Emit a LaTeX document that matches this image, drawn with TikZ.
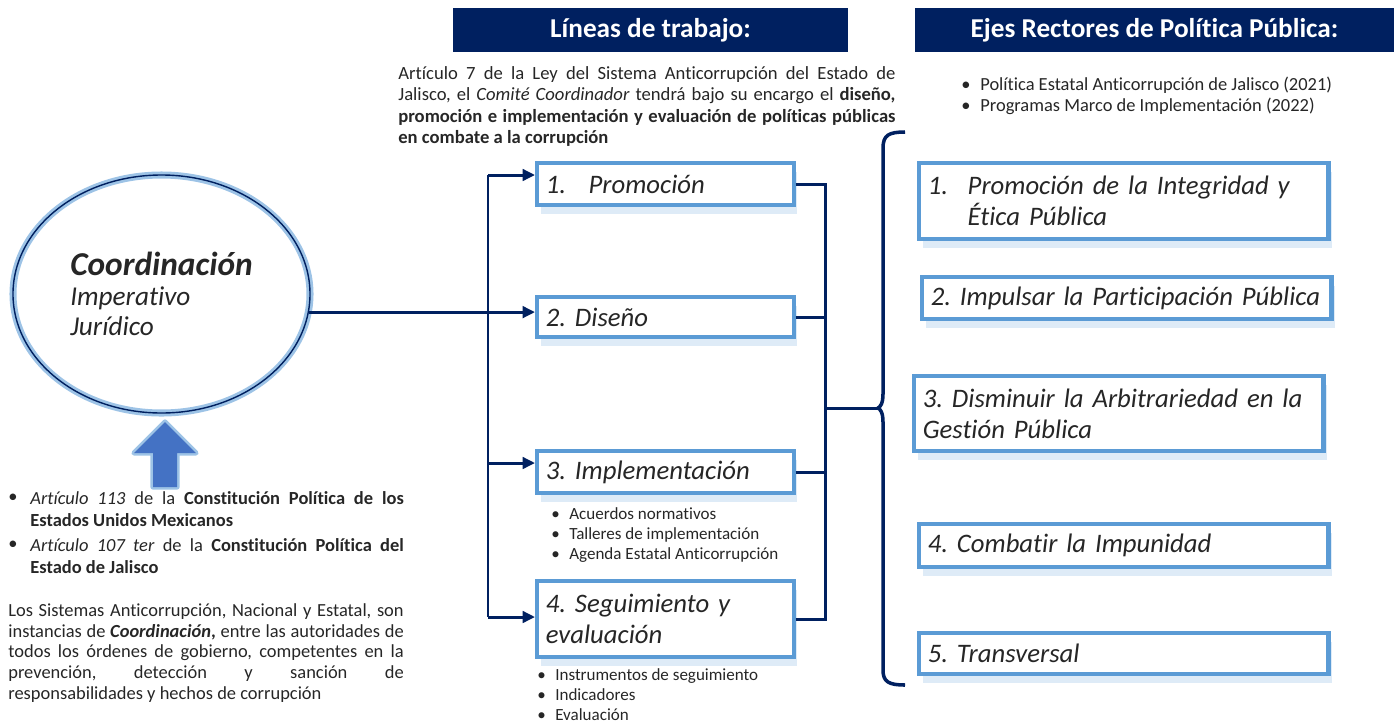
\documentclass[tikz,border=0pt]{standalone}
\usepackage{fontspec}
\setmainfont{Carlito}[Ligatures=NoCommon]
\usetikzlibrary{shapes.geometric,arrows.meta,shadows}

\definecolor{marino}{HTML}{002060}
\definecolor{azulcaja}{HTML}{5B9BD5}
\definecolor{sombra}{HTML}{DEEBF7}
\definecolor{azulflecha}{HTML}{4472C4}
\definecolor{brillo}{HTML}{9DC3E6}
\definecolor{gristexto}{HTML}{262626}

\tikzset{
  titulo/.style={fill=marino, text=white, font=\fontsize{15.5}{18}\selectfont\bfseries, minimum height=8.8mm, inner sep=0pt},
  caja/.style={draw=azulcaja, line width=2.3pt, fill=white, anchor=north west, inner xsep=5pt, inner ysep=0pt, align=left,
    font=\fontsize{15.2}{17.6}\selectfont\itshape,
    drop shadow={shadow xshift=0.7mm, shadow yshift=-1.7mm, fill=sombra, opacity=1}},
  linea/.style={caja, text width=136pt},
  eje/.style={caja, text width=223pt},
  parrafo/.style={anchor=north west, inner sep=0pt, align=justify, font=\fontsize{10.5}{12.2}\selectfont},
  punto/.style={parrafo, text width=212.5pt, font=\fontsize{10.5}{12.5}\selectfont},
  lista/.style={anchor=north west, inner sep=0pt, align=left, font=\fontsize{9.7}{11.6}\selectfont},
  conector/.style={draw=marino, line width=1.7pt},
  flecha/.style={conector, -{Triangle[length=7pt, width=6.5pt]}},
}

\begin{document}
\frenchspacing
\begin{tikzpicture}[x=0.2mm, y=-0.2mm, text=gristexto]
        \useasboundingbox (0,0) rectangle (1400,725);

        %Titulos
        \node[titulo, minimum width=79mm] (titulo1) at (650.5,30) {Líneas de trabajo:};
        \node[titulo, minimum width=95.8mm] (titulo2) at (1154.5,30) {Ejes Rectores de Política Pública:};

        %Articulo 7
        \node[parrafo, text width=282.9pt, font=\fontsize{10.6}{12.25}\selectfont] (art7) at (398,66) {Artículo 7 de la Ley del Sistema Anticorrupción del Estado de\linebreak Jalisco, el \textit{Comité Coordinador} tendrá bajo su encargo el \textbf{diseño,\linebreak promoción e implementación y evaluación de políticas públicas\linebreak en combate a la corrupción}};
        \node[lista, font=\fontsize{10.5}{12}\selectfont] (planes) at (961,77) {\makebox[10.8pt][l]{\textbullet}Política Estatal Anticorrupción de Jalisco (2021)\\
            \makebox[10.8pt][l]{\textbullet}Programas Marco de Implementación (2022)};

        %Coordinacion
        \node[ellipse, draw=marino, line width=0.8pt, preaction={draw=brillo, line width=4pt},
            minimum width=59.4mm, minimum height=47.6mm, inner sep=0pt, align=left,
            font=\fontsize{15.5}{17}\selectfont\itshape] (coord) at (161.5,294)
            {{\fontsize{19}{22}\selectfont\bfseries Coordinación}\\ Imperativo\\ Jurídico};
        \fill[azulflecha, preaction={draw=brillo, line width=3pt, line join=round}]
            (165,422) -- (196,453) -- (177,453) -- (177,487) -- (153,487) -- (153,453) -- (134,453) -- cycle;

        %Fundamento
        \node[lista, font=\fontsize{10.5}{12.5}\selectfont] (bala1) at (8,494) {\textbullet};
        \node[punto] (art113) at (30,491) {\textit{Artículo 113} de la \textbf{Constitución Política de los\linebreak Estados Unidos Mexicanos}};
        \node[lista, font=\fontsize{10.5}{12.5}\selectfont] (bala2) at (8,541) {\textbullet};
        \node[punto] (art107) at (30,538) {\textit{Artículo 107 ter} de la \textbf{Constitución Política del\linebreak Estado de Jalisco}};
        \node[parrafo, text width=225pt, font=\fontsize{10.5}{11.9}\selectfont] (sistemas) at (8,603) {Los Sistemas Anticorrupción, Nacional y Estatal, son\linebreak instancias de \textbf{\textit{Coordinación},} entre las autoridades de\linebreak todos los órdenes de gobierno, competentes en la\linebreak prevención, detección y sanción de\linebreak responsabilidades y hechos de corrupción};

        %Lineas de trabajo
        \node[linea, minimum height=8.4mm] (promocion) at (535,161) {\makebox[24.4pt][l]{1.}Promoción};
        \node[linea, minimum height=8mm] (diseno) at (535,295) {2. Diseño};
        \node[linea, minimum height=8.4mm] (implementacion) at (535,449) {3. Implementación};
        \node[linea, minimum height=15.2mm] (seguimiento) at (535,579) {4. Seguimiento y\\evaluación};
        \node[lista] (acuerdos) at (551,507) {\makebox[10.2pt][l]{\textbullet}Acuerdos normativos\\
            \makebox[10.2pt][l]{\textbullet}Talleres de implementación\\
            \makebox[10.2pt][l]{\textbullet}Agenda Estatal Anticorrupción};
        \node[lista] (instrumentos) at (537,668) {\makebox[10.2pt][l]{\textbullet}Instrumentos de seguimiento\\
            \makebox[10.2pt][l]{\textbullet}Indicadores\\
            \makebox[10.2pt][l]{\textbullet}Evaluación};

        %Ejes rectores
        \node[eje, minimum height=15.2mm] (integridad) at (917,161) {\makebox[22.7pt][l]{1.}Promoción de la Integridad y\\\hspace*{22.7pt}Ética Pública};
        \node[eje, minimum height=8.4mm] (participacion) at (920,275) {2. Impulsar la Participación Pública};
        \node[eje, minimum height=15mm] (arbitrariedad) at (912,374) {3. Disminuir la Arbitrariedad en la\\Gestión Pública};
        \node[eje, minimum height=8.6mm] (impunidad) at (917,522) {4. Combatir la Impunidad};
        \node[eje, minimum height=8.2mm] (transversal) at (917,631) {5. Transversal};

        %Conectores
        \coordinate (l1) at (488,175);
        \coordinate (l3) at (488,463);
        \coordinate (l4) at (488,617);
        \coordinate (hub) at (825,408);
        \coordinate (punta) at (878,408);
        \draw[conector] (l1) -- (l4);
        \draw[flecha] (l1) -- (l1 -| promocion.west);
        \draw[flecha] (coord.-7) -- (coord.-7 -| diseno.west);
        \draw[flecha] (l3) -- (l3 -| implementacion.west);
        \draw[flecha] (l4) -- (l4 -| seguimiento.west);
        \draw[conector] (promocion.east) -| (hub);
        \draw[conector] (seguimiento.east) -| (hub);
        \draw[conector] (diseno.east) -- (diseno.east -| hub);
        \draw[conector] (implementacion.east) -- (implementacion.east -| hub);
        \draw[conector] (hub) -- (punta);
        \draw[conector, line width=2pt] (905,132) .. controls (889,132) and (883,135) .. (883,148) -- (883,394)
            .. controls (883,404) and (880,407) .. (punta) .. controls (880,409) and (883,412) .. (883,422)
            -- (883,670) .. controls (883,682) and (889,685) .. (905,685);
    \end{tikzpicture}
\end{document}
